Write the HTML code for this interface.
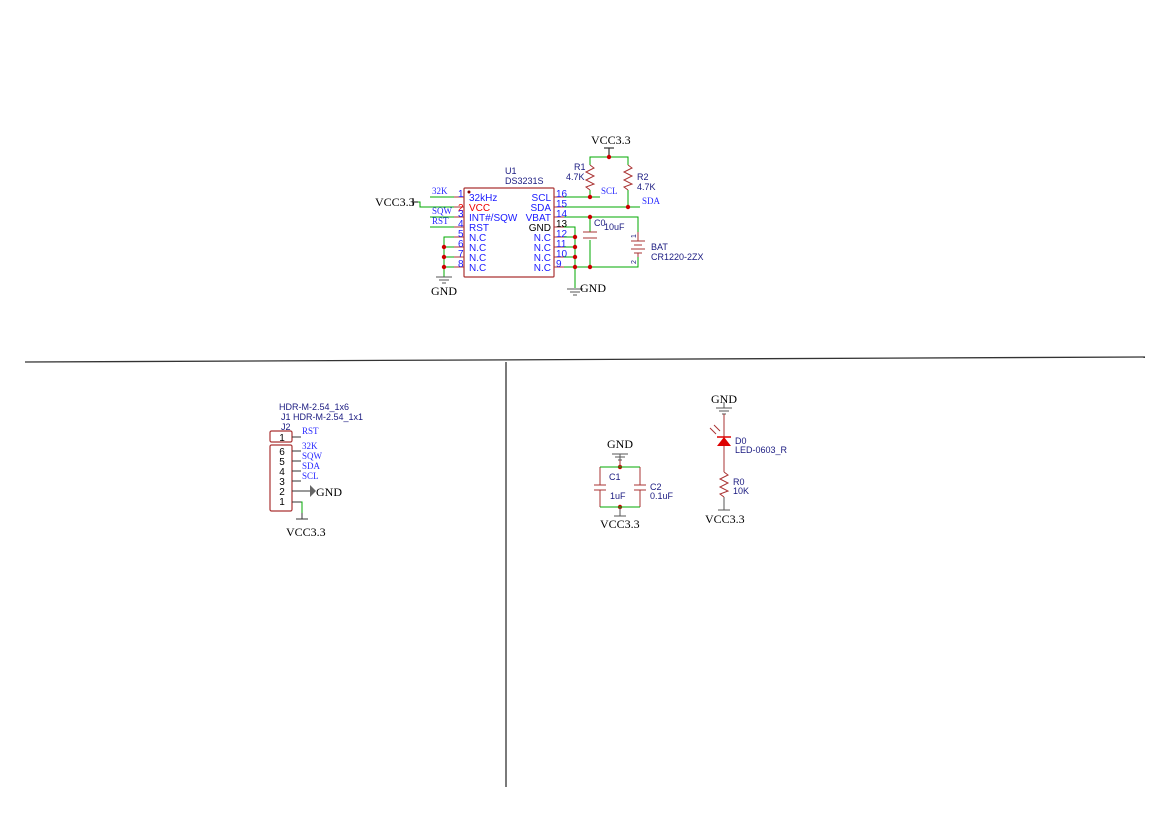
<!DOCTYPE html>
<html><head><meta charset="utf-8"><style>
html,body{margin:0;padding:0;background:#fff;}
svg{display:block;}
.s{font-family:"Liberation Serif",serif;font-size:12px;fill:#000;}
.b{font-family:"Liberation Sans",sans-serif;font-size:10px;fill:#1a1aff;}
.n{font-family:"Liberation Sans",sans-serif;font-size:9px;fill:#1a1a80;}
.l{font-family:"Liberation Serif",serif;font-size:9px;fill:#2a2aff;}
</style></head><body>
<svg width="1169" height="827" viewBox="0 0 1169 827" xmlns="http://www.w3.org/2000/svg">
<g stroke="#333" stroke-width="1.3">
<line x1="25" y1="362" x2="1145" y2="357"/>
<line x1="506" y1="362" x2="506" y2="787"/>
</g>
<!-- U1 -->
<rect x="464" y="188" width="90" height="89" fill="none" stroke="#a33" stroke-width="1.2" rx="1"/>
<circle cx="469" cy="192" r="1.5" fill="#800"/>
<text class="n" x="505" y="174">U1</text>
<text class="n" x="505" y="184">DS3231S</text>
<g stroke="#a33" stroke-width="1">
<line x1="454" y1="197" x2="464" y2="197"/><line x1="454" y1="207" x2="464" y2="207"/>
<line x1="454" y1="217" x2="464" y2="217"/><line x1="454" y1="227" x2="464" y2="227"/>
<line x1="454" y1="237" x2="464" y2="237"/><line x1="454" y1="247" x2="464" y2="247"/>
<line x1="454" y1="257" x2="464" y2="257"/><line x1="454" y1="267" x2="464" y2="267"/>
<line x1="554" y1="197" x2="564" y2="197"/><line x1="554" y1="207" x2="564" y2="207"/>
<line x1="554" y1="217" x2="564" y2="217"/><line x1="554" y1="227" x2="564" y2="227"/>
<line x1="554" y1="237" x2="564" y2="237"/><line x1="554" y1="247" x2="564" y2="247"/>
<line x1="554" y1="257" x2="564" y2="257"/><line x1="554" y1="267" x2="564" y2="267"/>
</g>
<g class="b">
<text x="458" y="197">1</text><text x="458" y="211" fill="#e00">2</text><text x="458" y="217">3</text><text x="458" y="227">4</text>
<text x="458" y="237">5</text><text x="458" y="247">6</text><text x="458" y="257">7</text><text x="458" y="267">8</text>
<text x="469" y="201">32kHz</text><text x="469" y="211" style="fill:#e00">VCC</text><text x="469" y="221">INT#/SQW</text><text x="469" y="231">RST</text>
<text x="469" y="241">N.C</text><text x="469" y="251">N.C</text><text x="469" y="261">N.C</text><text x="469" y="271">N.C</text>
<text x="551" y="201" text-anchor="end">SCL</text><text x="551" y="211" text-anchor="end">SDA</text><text x="551" y="221" text-anchor="end">VBAT</text><text x="551" y="231" text-anchor="end" style="fill:#000">GND</text>
<text x="551" y="241" text-anchor="end">N.C</text><text x="551" y="251" text-anchor="end">N.C</text><text x="551" y="261" text-anchor="end">N.C</text><text x="551" y="271" text-anchor="end">N.C</text>
<text x="556" y="197">16</text><text x="556" y="207">15</text><text x="556" y="217">14</text><text x="556" y="227" style="fill:#000">13</text>
<text x="556" y="237">12</text><text x="556" y="247">11</text><text x="556" y="257">10</text><text x="556" y="267">9</text>
</g>
<g stroke="#0a0" stroke-width="1" fill="none">
<line x1="430" y1="197" x2="454" y2="197"/>
<polyline points="418,202 420,202 420,207 454,207"/>
<line x1="430" y1="217" x2="454" y2="217"/>
<line x1="430" y1="227" x2="454" y2="227"/>
<polyline points="454,237 444,237 444,277"/>
<line x1="444" y1="247" x2="454" y2="247"/><line x1="444" y1="257" x2="454" y2="257"/><line x1="444" y1="267" x2="454" y2="267"/>
<line x1="564" y1="197" x2="600" y2="197"/>
<line x1="564" y1="207" x2="640" y2="207"/>
<polyline points="564,217 638,217 638,232"/>
<polyline points="564,227 575,227 575,288"/>
<line x1="564" y1="237" x2="575" y2="237"/><line x1="564" y1="247" x2="575" y2="247"/><line x1="564" y1="257" x2="575" y2="257"/>
<polyline points="564,267 638,267 638,257"/>
<line x1="590" y1="217" x2="590" y2="232"/><line x1="590" y1="240" x2="590" y2="267"/>
<polyline points="590,165 590,157 628,157 628,165"/>
<line x1="628" y1="190" x2="628" y2="207"/>
<line x1="590" y1="190" x2="590" y2="197"/>
</g>
<g class="l"><text x="432" y="194">32K</text><text x="432" y="214">SQW</text><text x="432" y="224">RST</text>
<text x="601" y="194">SCL</text><text x="642" y="204">SDA</text></g>
<!-- VCC left -->
<g stroke="#333" stroke-width="1.2"><line x1="413" y1="198" x2="413" y2="206"/><line x1="413" y1="202" x2="418" y2="202"/></g>
<text class="s" x="375" y="206">VCC3.3</text>
<!-- GND symbols -->
<g stroke="#555" stroke-width="1">
<line x1="436" y1="277" x2="452" y2="277"/><line x1="439" y1="280" x2="449" y2="280"/><line x1="442" y1="283" x2="446" y2="283"/>
<line x1="567" y1="289" x2="583" y2="289"/><line x1="570" y1="292" x2="580" y2="292"/><line x1="573" y1="295" x2="577" y2="295"/>
</g>
<text class="s" x="431" y="295">GND</text>
<text class="s" x="580" y="292">GND</text>
<!-- VCC top -->
<g stroke="#333" stroke-width="1.2"><line x1="609" y1="148" x2="609" y2="157"/><line x1="604" y1="148" x2="614" y2="148"/></g>
<text class="s" x="591" y="144">VCC3.3</text>
<!-- resistors -->
<g stroke="#a33" stroke-width="1" fill="none">
<polyline points="590,165 594,168 586,172 594,176 586,180 594,184 586,187 590,190"/>
<polyline points="628,165 632,168 624,172 632,176 624,180 632,184 624,187 628,190"/>
<line x1="583" y1="232" x2="597" y2="232"/><line x1="583" y1="238" x2="597" y2="238"/>
<line x1="638" y1="232" x2="638" y2="241"/><line x1="631" y1="241" x2="645" y2="241"/><line x1="634" y1="245" x2="642" y2="245"/><line x1="631" y1="249" x2="645" y2="249"/><line x1="634" y1="253" x2="642" y2="253"/><line x1="638" y1="253" x2="638" y2="257"/>
</g>
<g class="n"><text x="574" y="170">R1</text><text x="566" y="180">4.7K</text><text x="637" y="180">R2</text><text x="637" y="190">4.7K</text>
<text x="594" y="226">C0</text><text x="604" y="230">10uF</text><text x="651" y="250">BAT</text><text x="651" y="260">CR1220-2ZX</text>
<text x="636" y="238" font-size="7" transform="rotate(-90 636 238)">1</text><text x="636" y="264" font-size="7" transform="rotate(-90 636 264)">2</text></g>
<g fill="#c00">
<circle cx="444" cy="247" r="2.2"/><circle cx="444" cy="257" r="2.2"/><circle cx="444" cy="267" r="2.2"/>
<circle cx="575" cy="237" r="2.2"/><circle cx="575" cy="247" r="2.2"/><circle cx="575" cy="257" r="2.2"/><circle cx="575" cy="267" r="2.2"/>
<circle cx="590" cy="267" r="2.2"/><circle cx="590" cy="217" r="2.2"/><circle cx="590" cy="197" r="2.2"/><circle cx="628" cy="207" r="2.2"/><circle cx="609" cy="157" r="2.2"/>
<circle cx="620" cy="467" r="2.2"/><circle cx="620" cy="507" r="2.2"/>
</g>
<!-- J2 -->
<g class="n"><text x="279" y="410">HDR-M-2.54_1x6</text><text x="281" y="420">J1 HDR-M-2.54_1x1</text><text x="281" y="430">J2</text></g>
<g fill="none" stroke="#a33" stroke-width="1.2"><rect x="270" y="431" width="22" height="11" rx="1.5"/><rect x="270" y="445" width="22" height="66" rx="1.5"/></g>
<g style="font-family:'Liberation Sans',sans-serif;font-size:10px;fill:#000" text-anchor="middle">
<text x="282" y="441">1</text><text x="282" y="455">6</text><text x="282" y="465">5</text><text x="282" y="475">4</text><text x="282" y="485">3</text><text x="282" y="495">2</text><text x="282" y="505">1</text></g>
<g stroke="#333" stroke-width="1">
<line x1="292" y1="437" x2="301" y2="437"/><line x1="292" y1="451" x2="301" y2="451"/><line x1="292" y1="461" x2="301" y2="461"/><line x1="292" y1="471" x2="301" y2="471"/><line x1="292" y1="481" x2="301" y2="481"/><line x1="292" y1="491" x2="310" y2="491"/><line x1="292" y1="502" x2="301" y2="502"/>
<line x1="296" y1="519" x2="308" y2="519"/><line x1="302" y1="513" x2="302" y2="519"/>
</g>
<polygon points="310,485 316,491 310,497" fill="#666"/>
<polyline points="301,502 302,502 302,513" stroke="#0a0" fill="none"/>
<g class="l"><text x="302" y="434">RST</text><text x="302" y="449">32K</text><text x="302" y="459">SQW</text><text x="302" y="469">SDA</text><text x="302" y="479">SCL</text></g>
<text class="s" x="316" y="496">GND</text>
<text class="s" x="286" y="536">VCC3.3</text>
<!-- C1 C2 -->
<text class="s" x="607" y="448">GND</text>
<g stroke="#555" stroke-width="1"><line x1="612" y1="454" x2="628" y2="454"/><line x1="615" y1="457" x2="625" y2="457"/><line x1="618" y1="460" x2="622" y2="460"/><line x1="620" y1="454" x2="620" y2="460"/>
<line x1="620" y1="507" x2="620" y2="516"/><line x1="614" y1="516" x2="626" y2="516"/></g>
<g stroke="#a33" stroke-width="1" fill="none"><line x1="620" y1="460" x2="620" y2="467"/>
<line x1="600" y1="467" x2="600" y2="485"/><line x1="600" y1="490" x2="600" y2="507"/><line x1="594" y1="485" x2="606" y2="485"/><line x1="594" y1="490" x2="606" y2="490"/>
<line x1="640" y1="467" x2="640" y2="485"/><line x1="640" y1="490" x2="640" y2="507"/><line x1="634" y1="485" x2="646" y2="485"/><line x1="634" y1="490" x2="646" y2="490"/></g>
<g stroke="#0a0" stroke-width="1"><line x1="600" y1="467" x2="640" y2="467"/><line x1="600" y1="507" x2="640" y2="507"/></g>
<g class="n"><text x="609" y="480">C1</text><text x="610" y="499">1uF</text><text x="650" y="490">C2</text><text x="650" y="499">0.1uF</text></g>
<text class="s" x="600" y="528">VCC3.3</text>
<!-- LED -->
<text class="s" x="711" y="403">GND</text>
<g stroke="#555" stroke-width="1"><line x1="716" y1="408" x2="732" y2="408"/><line x1="719" y1="411" x2="729" y2="411"/><line x1="722" y1="414" x2="726" y2="414"/><line x1="724" y1="402" x2="724" y2="408"/>
<line x1="724" y1="497" x2="724" y2="510"/><line x1="718" y1="510" x2="730" y2="510"/></g>
<g stroke="#a33" stroke-width="1" fill="none"><line x1="724" y1="414" x2="724" y2="437"/><line x1="724" y1="446" x2="724" y2="472"/>
<polyline points="724,472 728,475 720,479 728,483 720,487 728,491 720,494 724,497"/>
<line x1="710" y1="428" x2="716" y2="434"/><line x1="714" y1="425" x2="720" y2="431"/></g>
<line x1="717" y1="437" x2="731" y2="437" stroke="#d00" stroke-width="1.5"/>
<polygon points="717,446 731,446 724,437" fill="#d00"/>
<g class="n"><text x="735" y="444">D0</text><text x="735" y="453">LED-0603_R</text><text x="733" y="485">R0</text><text x="733" y="494">10K</text></g>
<text class="s" x="705" y="523">VCC3.3</text>
</svg>
</body></html>
